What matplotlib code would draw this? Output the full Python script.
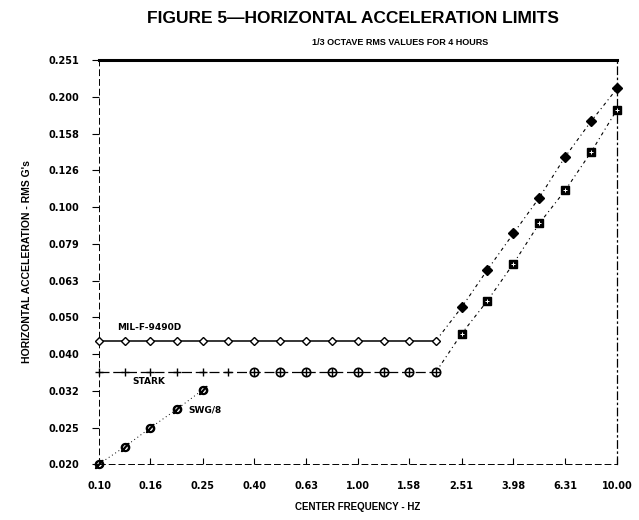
import numpy as np
import matplotlib
matplotlib.use("Agg")
import matplotlib.pyplot as plt

plt.rcParams['font.family'] = ['Liberation Sans Narrow', 'Liberation Sans', 'DejaVu Sans']
plt.rcParams['font.weight'] = 'bold'

# 1/3 octave center frequencies, Hz
freq = [0.100, 0.126, 0.158, 0.200, 0.251, 0.316, 0.398, 0.501, 0.631, 0.794,
        1.00, 1.26, 1.58, 2.00, 2.51, 3.16, 3.98, 5.01, 6.31, 7.94, 10.0]

# MIL-F-9490D limit (rms g)
mil = [0.0433] * 14 + [0.0533, 0.0675, 0.0847, 0.106, 0.137, 0.171, 0.210]
# STARK limit
stark = [0.0356] * 14 + [0.0452, 0.0556, 0.0701, 0.0902, 0.111, 0.141, 0.184]
# SWG/8
swg_freq = [0.100, 0.126, 0.158, 0.200, 0.251]
swg = [0.0200, 0.0223, 0.0251, 0.0282, 0.0318]

xticks = [0.10, 0.158, 0.251, 0.398, 0.631, 1.00, 1.58, 2.51, 3.98, 6.31, 10.0]
xlabels = ["0.10", "0.16", "0.25", "0.40", "0.63", "1.00", "1.58", "2.51", "3.98", "6.31", "10.00"]
yticks = [0.0200, 0.0251, 0.0316, 0.0398, 0.0501, 0.0631, 0.0794, 0.100, 0.126, 0.158, 0.1995, 0.251]
ylabels = ["0.020", "0.025", "0.032", "0.040", "0.050", "0.063", "0.079", "0.100", "0.126", "0.158", "0.200", "0.251"]

heavy = ['DejaVu Sans']

fig = plt.figure(figsize=(6.39, 5.2), dpi=100)
ax = fig.add_axes([0.155, 0.1077, 0.8106, 0.7769])
ax.set_xscale("log")
ax.set_yscale("log")

k = 14  # index where the curves begin to rise
# MIL-F-9490D
ax.plot(freq[:k], mil[:k], color="black", lw=1.1, zorder=3)
ax.plot(freq[k - 1:], mil[k - 1:], color="black", lw=0.8, ls=(0, (3, 3, 1, 3)), zorder=3)
ax.plot(freq[:k], mil[:k], ls="none", marker="D", ms=4.5, mfc="white", mec="black", mew=1.0,
        clip_on=False, zorder=4)
ax.plot(freq[k:], mil[k:], ls="none", marker="D", ms=5, color="black", clip_on=False, zorder=4)

# STARK
ax.plot(freq[:k], stark[:k], color="black", lw=0.9, ls=(0, (8, 3)), zorder=3)
ax.plot(freq[k - 1:], stark[k - 1:], color="black", lw=0.8, ls=(0, (3, 3, 1, 3)), zorder=3)
ax.plot(freq[:6], stark[:6], ls="none", marker="+", ms=6, mew=1.0, color="black",
        clip_on=False, zorder=4)
ax.plot(freq[6:k], stark[6:k], ls="none", marker="o", ms=6, mfc="white", mec="black", mew=1.2,
        zorder=4)
ax.plot(freq[6:k], stark[6:k], ls="none", marker="+", ms=6, mew=1.0, color="black", zorder=5)
ax.plot(freq[k:], stark[k:], ls="none", marker="s", ms=6, color="black", clip_on=False, zorder=4)
ax.plot(freq[k:], stark[k:], ls="none", marker="+", ms=3, mew=0.7, color="white",
        clip_on=False, zorder=5)

# SWG/8
ax.plot(swg_freq, swg, color="black", lw=0.7, ls=(0, (1, 3)), zorder=3)
ax.plot(swg_freq, swg, ls="none", marker=r"$\varnothing$", ms=6, color="black",
        clip_on=False, zorder=4)

ax.text(0.117, 0.0471, "MIL-F-9490D", fontsize=6.5, fontweight="bold", family=heavy, va="center")
ax.text(0.135, 0.0335, "STARK", fontsize=6.5, fontweight="bold", family=heavy, va="center")
ax.text(0.221, 0.0280, "SWG/8", fontsize=6.5, fontweight="bold", family=heavy, va="center")

ax.set_xlim(0.1, 10)
ax.set_ylim(0.020, 0.251)
ax.xaxis.set_minor_locator(matplotlib.ticker.NullLocator())
ax.yaxis.set_minor_locator(matplotlib.ticker.NullLocator())
ax.set_xticks(xticks)
ax.set_xticklabels(xlabels, fontsize=7, fontweight="bold", family=heavy)
ax.set_yticks(yticks)
ax.set_yticklabels(ylabels, fontsize=7, fontweight="bold", family=heavy)
ax.tick_params(axis="y", direction="out", length=5, width=0.8, pad=9)
ax.tick_params(axis="x", direction="in", length=4, width=0.8, pad=12)

for s in ["left", "bottom"]:
    ax.spines[s].set_linestyle((0, (6, 4)))
    ax.spines[s].set_linewidth(0.7)
ax.spines["right"].set_linestyle((0, (6, 3, 1, 3)))
ax.spines["right"].set_linewidth(0.9)
ax.spines["top"].set_linewidth(2.2)

ax.set_xlabel("CENTER FREQUENCY - HZ", fontsize=7, fontweight="bold", labelpad=8)
ax.set_ylabel("HORIZONTAL ACCELERATION - RMS G's", fontsize=7.5, fontweight="bold")
ax.yaxis.set_label_coords(-0.13, 0.5)

fig.text(0.552, 0.965, "FIGURE 5\u2014HORIZONTAL ACCELERATION LIMITS", ha="center", va="center",
         fontsize=12.5, fontweight="bold")
fig.text(0.626, 0.918, "1/3 OCTAVE RMS VALUES FOR 4 HOURS", ha="center", va="center",
         fontsize=6.5, fontweight="bold")

fig.savefig("out.png", dpi=100)
